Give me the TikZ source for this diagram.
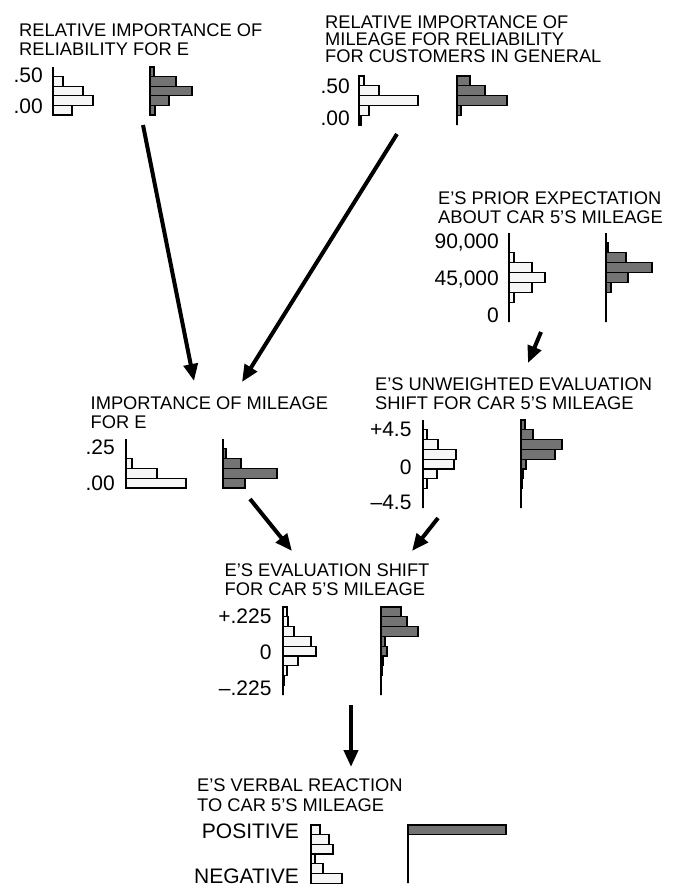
\documentclass[tikz,border=0pt]{standalone}
\usepackage{fontspec}
\setmainfont{Liberation Sans}
\usetikzlibrary{arrows.meta}

\definecolor{lightbar}{gray}{0.965}
\definecolor{darkbar}{gray}{0.45}

% one histogram: style, axis x, top y, bin height, bar lengths
\newcommand{\histo}[5]{%
  \foreach \w [count=\i from 0] in {#5} {
    \draw[#1] (#2, {#3+\i*#4}) rectangle ++(\w, #4);
    \draw[axis] (#2, {#3+\i*#4}) -- ++(0, #4);
  }%
}

\begin{document}
\begin{tikzpicture}[x=1pt, y=-1pt,
    paneltitle/.style={anchor=north west, inner sep=0pt, align=left,
      font=\fontsize{18.3}{#1}\selectfont},
    paneltitle/.default=18.5,
    scalelabel/.style={anchor=base east, inner sep=0pt,
      font=\fontsize{21}{22}\selectfont},
    lightbin/.style={draw=black, line width=1.3pt, fill=lightbar},
    darkbin/.style={draw=black, line width=1.3pt, fill=darkbar},
    axis/.style={line width=1.7pt},
    flow/.style={line width=4pt, -{Triangle[length=17pt, width=14pt]}}]

    \useasboundingbox (0,0) rectangle (674,886);

    % 1. reliability for E
    \node[paneltitle=18.7] (t-rel) at (19,24)
      {RELATIVE IMPORTANCE OF\\RELIABILITY FOR E};
    \node[scalelabel] at (43,82) {.50};
    \node[scalelabel] at (43,113) {.00};
    \histo{lightbin}{53}{67}{9.6}{0,10,30,40,19}
    \histo{darkbin}{150}{67}{9.6}{4,26,42,19,5}

    % 2. customers in general
    \node[paneltitle=17] (t-cust) at (325,15.5)
      {RELATIVE IMPORTANCE OF\\MILEAGE FOR RELIABILITY\\FOR CUSTOMERS IN GENERAL};
    \node[scalelabel] at (350,93) {.50};
    \node[scalelabel] at (350,125) {.00};
    \histo{lightbin}{359}{76}{9.8}{5,20,59,10,2}
    \histo{darkbin}{457}{76}{9.8}{13,28,50,4,0}

    % 3. prior expectation
    \node[paneltitle=18.3] (t-prior) at (438,192)
      {E’S PRIOR EXPECTATION\\ABOUT CAR 5’S MILEAGE};
    \node[scalelabel] at (499,248) {90,000};
    \node[scalelabel] at (499,285) {45,000};
    \node[scalelabel] at (499,322) {0};
    \histo{lightbin}{509}{233}{9.9}{0,0,5,23,36,23,5,0,0}
    \histo{darkbin}{606}{233}{9.9}{0,2,20,46,22,5,0,0,0}

    % 4. importance of mileage
    \node[paneltitle=18.3] (t-imp) at (90.5,397)
      {IMPORTANCE OF MILEAGE\\FOR E};
    \node[scalelabel] at (115,454) {.25};
    \node[scalelabel] at (115,490) {.00};
    \histo{lightbin}{126}{439}{9.8}{0,0,6,31,60}
    \histo{darkbin}{223}{439}{9.8}{0,3,18,54,22}

    % 5. unweighted shift
    \node[paneltitle=19] (t-unw) at (375,378)
      {E’S UNWEIGHTED EVALUATION\\SHIFT FOR CAR 5’S MILEAGE};
    \node[scalelabel] at (411.7,436) {+4.5};
    \node[scalelabel] at (411.7,474) {0};
    \node[scalelabel] at (411.7,509) {–4.5};
    \histo{lightbin}{423}{420}{9.8}{0,4,15,33,31,14,4,0,0}
    \histo{darkbin}{521}{420}{9.8}{4,12,41,34,5,2,1,0,0}

    % 6. evaluation shift
    \node[paneltitle=19] (t-shift) at (224.5,564)
      {E’S EVALUATION SHIFT\\FOR CAR 5’S MILEAGE};
    \node[scalelabel] at (271.7,623) {+.225};
    \node[scalelabel] at (271.7,659) {0};
    \node[scalelabel] at (271.7,695) {–.225};
    \histo{lightbin}{283}{607}{9.8}{4,5,11,28,33,15,4,1,0}
    \histo{darkbin}{381}{607}{9.8}{20,26,37,4,6,2,1,0,0}

    % 7. verbal reaction
    \node[paneltitle=20] (t-verbal) at (197,779)
      {E’S VERBAL REACTION\\TO CAR 5’S MILEAGE};
    \node[scalelabel] at (299,838) {POSITIVE};
    \node[scalelabel] at (299,883) {NEGATIVE};
    \histo{lightbin}{311}{825}{9.7}{9,18,22,4,12,31}
    \histo{darkbin}{408}{825}{9.7}{98,0,0,0,0,0}

    % 8. influence arrows
    \coordinate (rel-out)    at (143,125);
    \coordinate (cust-out)   at (397,134);
    \coordinate (prior-out)  at (541,332);
    \coordinate (imp-out)    at (250,499);
    \coordinate (unw-out)    at (438,518);
    \coordinate (shift-out)  at (351,705);
    \coordinate (imp-in1)    at (194,381);
    \coordinate (imp-in2)    at (242,382);
    \coordinate (unw-in)     at (528,363);
    \coordinate (shift-in1)  at (292,551);
    \coordinate (shift-in2)  at (412,551);
    \coordinate (verbal-in)  at (351,767);

    \draw[flow] (rel-out) -- (imp-in1);
    \draw[flow] (cust-out) -- (imp-in2);
    \draw[flow] (prior-out) -- (unw-in);
    \draw[flow] (imp-out) -- (shift-in1);
    \draw[flow] (unw-out) -- (shift-in2);
    \draw[flow] (shift-out) -- (verbal-in);

\end{tikzpicture}
\end{document}
